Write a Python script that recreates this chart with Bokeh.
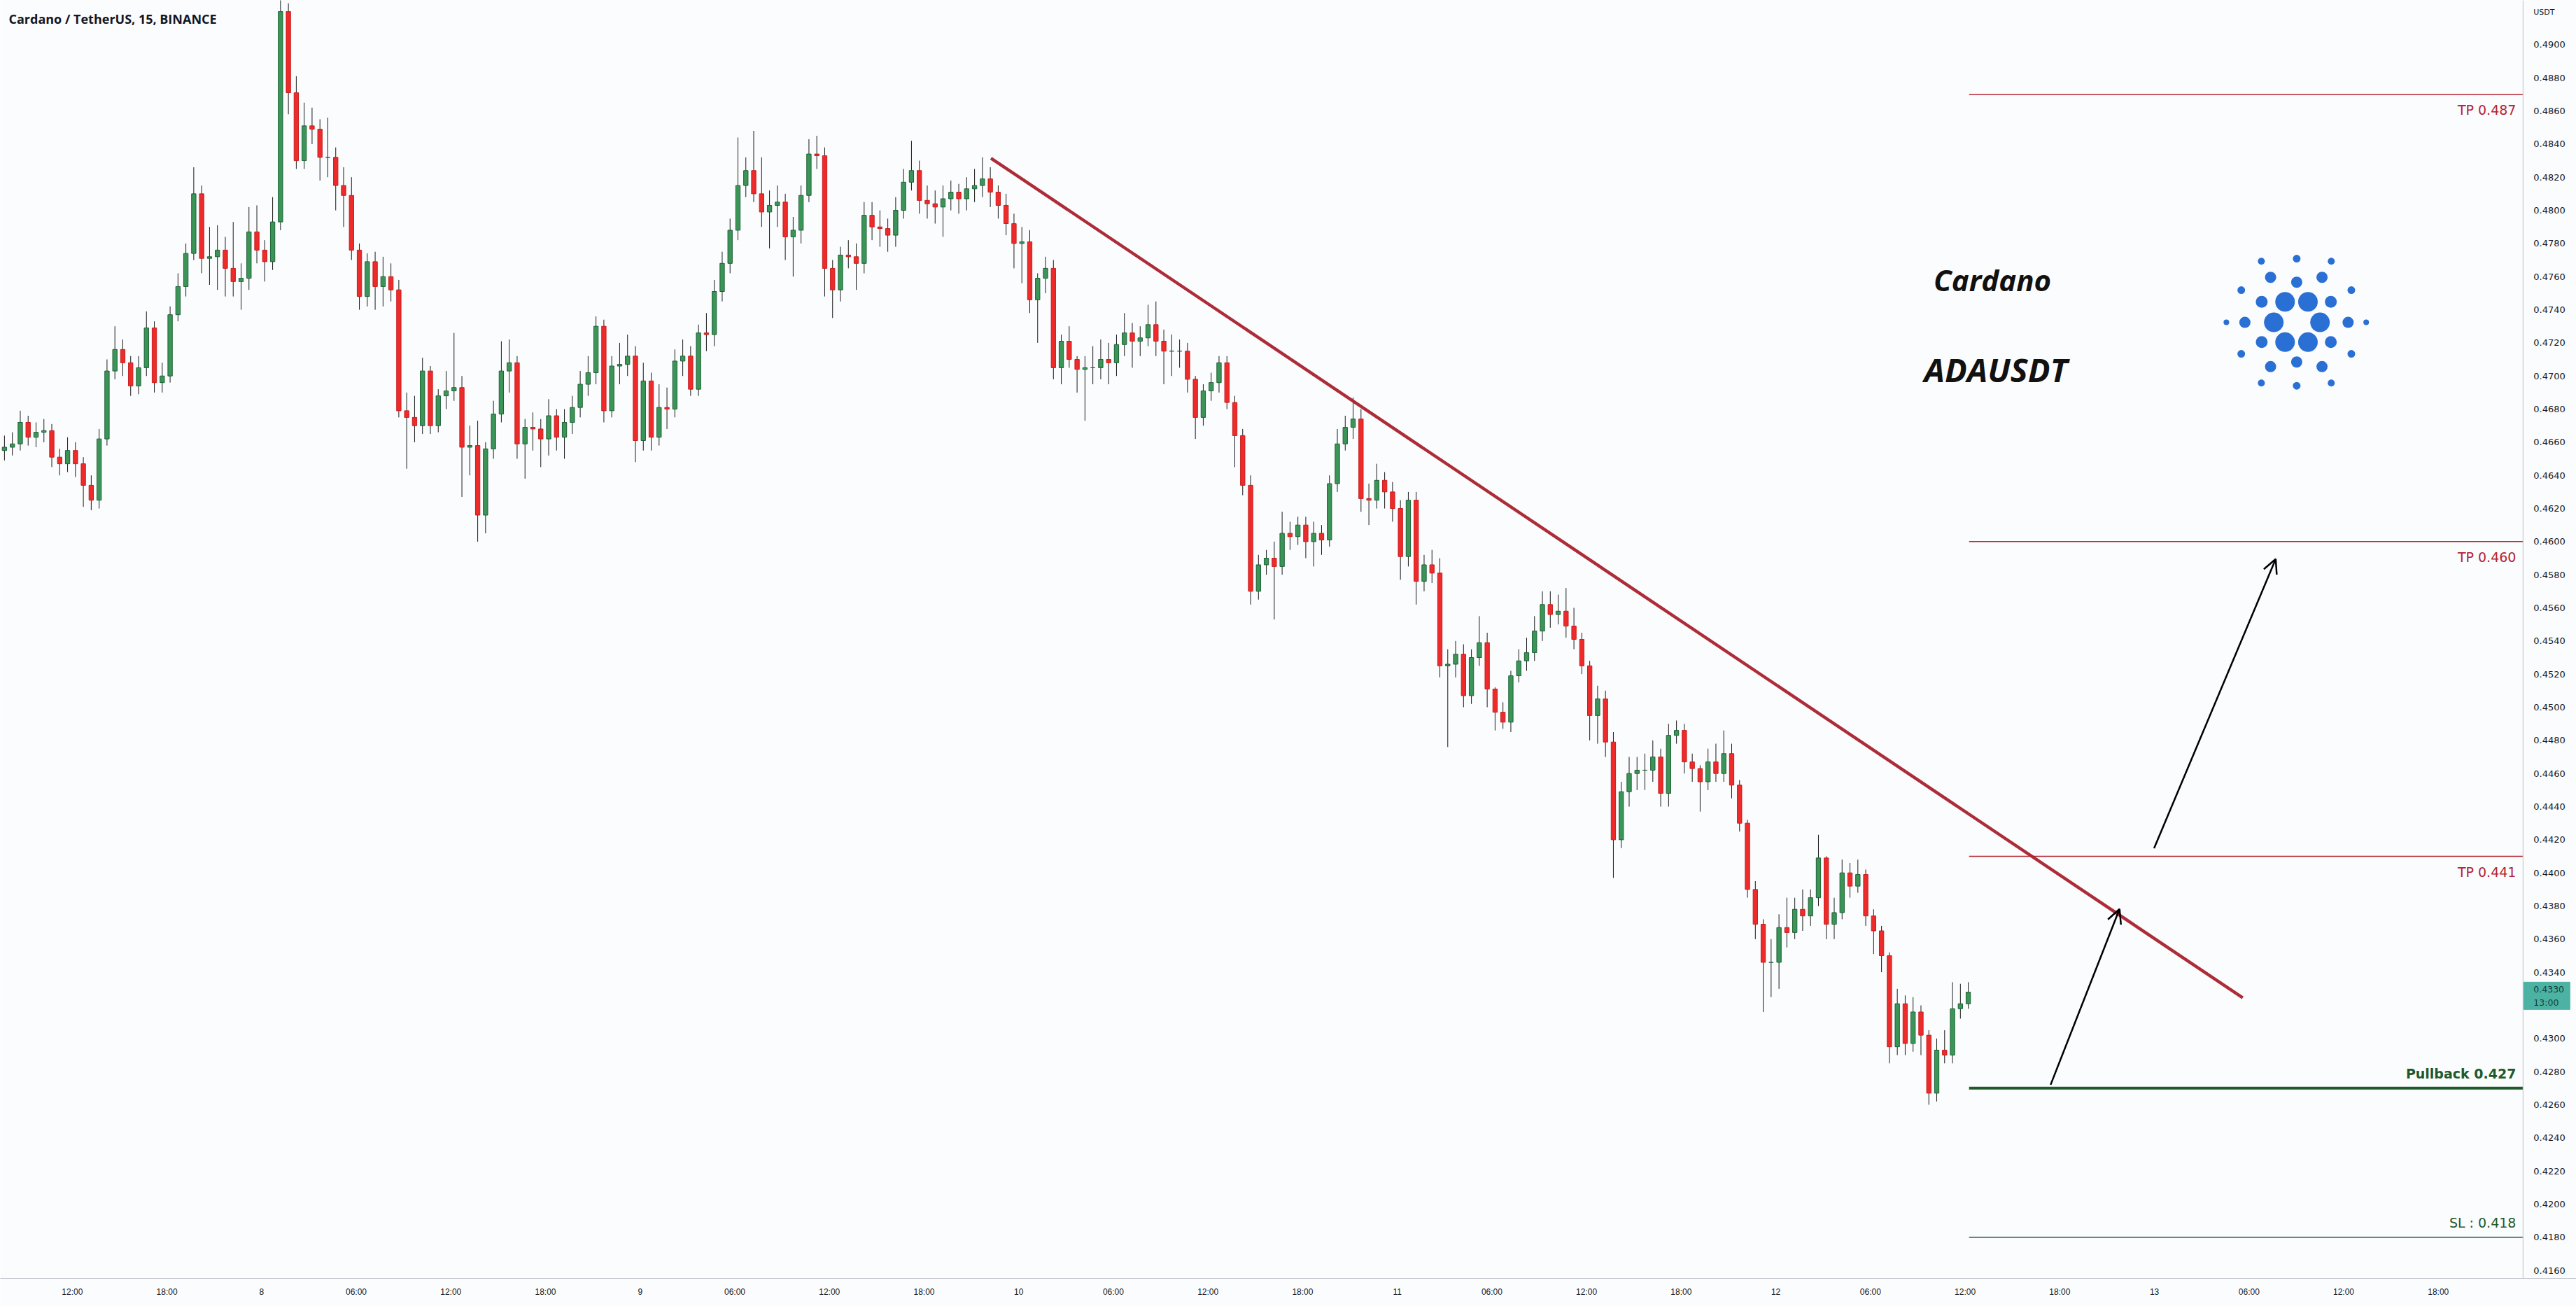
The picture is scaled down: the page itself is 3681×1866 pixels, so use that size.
from bokeh.plotting import figure
from bokeh.models import (ColumnDataSource, Range1d, FixedTicker, Label, Arrow, OpenHead)
from bokeh.core.properties import value
from bokeh.embed import file_html
from bokeh.resources import INLINE

# ---------------- data (time in hours relative to Jul 8 00:00, 30-minute candles) -------------
start_hour = -16.5          # first candle: Jul 7 07:30
bar_hours = 0.5
first_open = 0.4655

close = [
    0.4657, 0.4659, 0.4672, 0.4663, 0.4666, 0.4667, 0.4651, 0.4647, 0.4655, 0.4647,
    0.4634, 0.4625, 0.4662, 0.4703, 0.4716, 0.4708, 0.4694, 0.4705, 0.4729, 0.4696,
    0.4700, 0.4737, 0.4754, 0.4774, 0.4810, 0.4771, 0.4772, 0.4776, 0.4765, 0.4757,
    0.4759, 0.4787, 0.4776, 0.4769, 0.4793, 0.4920, 0.4871, 0.4830, 0.4851, 0.4849,
    0.4832, 0.4832, 0.4815, 0.4809, 0.4776, 0.4748, 0.4769, 0.4754, 0.4760, 0.4752,
    0.4679, 0.4675, 0.4670, 0.4703, 0.4670, 0.4688, 0.4691, 0.4693, 0.4657, 0.4658,
    0.4616, 0.4656, 0.4677, 0.4703, 0.4708, 0.4659, 0.4669, 0.4668, 0.4662, 0.4676,
    0.4663, 0.4672, 0.4681, 0.4695, 0.4702, 0.4730, 0.4679, 0.4706, 0.4707, 0.4712,
    0.4661, 0.4697, 0.4663, 0.4681, 0.4680, 0.4709, 0.4712, 0.4692, 0.4726, 0.4725,
    0.4751, 0.4768, 0.4788, 0.4815, 0.4824, 0.4810, 0.4799, 0.4803, 0.4805, 0.4784,
    0.4788, 0.4809, 0.4834, 0.4833, 0.4765, 0.4752, 0.4773, 0.4772, 0.4768, 0.4797,
    0.4790, 0.4789, 0.4785, 0.4800, 0.4817, 0.4824, 0.4806, 0.4804, 0.4802, 0.4807,
    0.4811, 0.4807, 0.4813, 0.4815, 0.4819, 0.4811, 0.4803, 0.4792, 0.4780, 0.4781,
    0.4746, 0.4759, 0.4765, 0.4705, 0.4721, 0.4710, 0.4704, 0.4705, 0.4705, 0.4710,
    0.4708, 0.4719, 0.4726, 0.4721, 0.4723, 0.4731, 0.4721, 0.4715, 0.4715, 0.4715,
    0.4698, 0.4675, 0.4691, 0.4696, 0.4708, 0.4684, 0.4664, 0.4634, 0.4570, 0.4586,
    0.4590, 0.4585, 0.4605, 0.4603, 0.4610, 0.4600, 0.4605, 0.4601, 0.4635, 0.4659,
    0.4669, 0.4674, 0.4626, 0.4625, 0.4637, 0.4630, 0.4620, 0.4591, 0.4625, 0.4576,
    0.4586, 0.4581, 0.4525, 0.4526, 0.4532, 0.4507, 0.4530, 0.4539, 0.4511, 0.4497,
    0.4491, 0.4519, 0.4528, 0.4533, 0.4546, 0.4562, 0.4556, 0.4558, 0.4549, 0.4541,
    0.4525, 0.4495, 0.4505, 0.4479, 0.4420, 0.4449, 0.4460, 0.4462, 0.4462, 0.4470,
    0.4448, 0.4483, 0.4486, 0.4467, 0.4463, 0.4455, 0.4467, 0.4460, 0.4472, 0.4453,
    0.4430, 0.4390, 0.4369, 0.4346, 0.4346, 0.4367, 0.4364, 0.4378, 0.4374, 0.4385,
    0.4409, 0.4369, 0.4376, 0.4400, 0.4392, 0.4399, 0.4374, 0.4365, 0.4350, 0.4295,
    0.4321, 0.4297, 0.4316, 0.4302, 0.4267, 0.4293, 0.4290, 0.4318, 0.4321, 0.4328,
]

high = [
    0.4664, 0.4666, 0.4679, 0.4676, 0.4672, 0.4674, 0.4671, 0.4656, 0.4663, 0.4660,
    0.4651, 0.4640, 0.4668, 0.4710, 0.4730, 0.4722, 0.4712, 0.4712, 0.4739, 0.4733,
    0.4708, 0.4742, 0.4762, 0.4780, 0.4826, 0.4815, 0.4790, 0.4791, 0.4784, 0.4793,
    0.4768, 0.4802, 0.4803, 0.4782, 0.4808, 0.4927, 0.4925, 0.4881, 0.4865, 0.4862,
    0.4855, 0.4856, 0.4838, 0.4826, 0.4820, 0.4780, 0.4774, 0.4775, 0.4772, 0.4768,
    0.4758, 0.4690, 0.4688, 0.4711, 0.4706, 0.4692, 0.4703, 0.4726, 0.4700, 0.4670,
    0.4673, 0.4660, 0.4685, 0.4721, 0.4722, 0.4712, 0.4674, 0.4678, 0.4674, 0.4686,
    0.4680, 0.4680, 0.4688, 0.4703, 0.4712, 0.4736, 0.4734, 0.4712, 0.4720, 0.4725,
    0.4718, 0.4708, 0.4702, 0.4695, 0.4693, 0.4716, 0.4722, 0.4718, 0.4731, 0.4738,
    0.4758, 0.4775, 0.4795, 0.4844, 0.4832, 0.4848, 0.4832, 0.4812, 0.4815, 0.4810,
    0.4796, 0.4815, 0.4843, 0.4845, 0.4838, 0.4770, 0.4778, 0.4782, 0.4780, 0.4805,
    0.4805, 0.4800, 0.4795, 0.4808, 0.4825, 0.4842, 0.4830, 0.4815, 0.4812, 0.4815,
    0.4818, 0.4816, 0.4820, 0.4825, 0.4832, 0.4826, 0.4815, 0.4810, 0.4798, 0.4790,
    0.4788, 0.4762, 0.4772, 0.4770, 0.4725, 0.4730, 0.4712, 0.4712, 0.4718, 0.4722,
    0.4720, 0.4725, 0.4738, 0.4732, 0.4730, 0.4743, 0.4745, 0.4728, 0.4725, 0.4722,
    0.4720, 0.4700, 0.4695, 0.4702, 0.4712, 0.4712, 0.4688, 0.4668, 0.4640, 0.4592,
    0.4595, 0.4600, 0.4618, 0.4612, 0.4615, 0.4615, 0.4612, 0.4610, 0.4640, 0.4668,
    0.4676, 0.4687, 0.4680, 0.4635, 0.4647, 0.4642, 0.4636, 0.4625, 0.4630, 0.4630,
    0.4592, 0.4595, 0.4590, 0.4535, 0.4540, 0.4538, 0.4535, 0.4555, 0.4545, 0.4512,
    0.4503, 0.4522, 0.4535, 0.4542, 0.4555, 0.4570, 0.4570, 0.4568, 0.4572, 0.4560,
    0.4545, 0.4528, 0.4513, 0.4510, 0.4485, 0.4455, 0.4470, 0.4470, 0.4472, 0.4480,
    0.4475, 0.4490, 0.4492, 0.4490, 0.4472, 0.4465, 0.4475, 0.4478, 0.4486, 0.4478,
    0.4456, 0.4432, 0.4395, 0.4372, 0.4360, 0.4375, 0.4385, 0.4385, 0.4390, 0.4390,
    0.4423, 0.4410, 0.4385, 0.4408, 0.4406, 0.4408, 0.4402, 0.4378, 0.4368, 0.4352,
    0.4330, 0.4326, 0.4325, 0.4320, 0.4305, 0.4300, 0.4305, 0.4334, 0.4333, 0.4334,
]

low = [
    0.4649, 0.4652, 0.4655, 0.4658, 0.4657, 0.4660, 0.4645, 0.4640, 0.4642, 0.4639,
    0.4621, 0.4619, 0.4620, 0.4658, 0.4698, 0.4700, 0.4688, 0.4689, 0.4700, 0.4690,
    0.4690, 0.4696, 0.4733, 0.4748, 0.4770, 0.4762, 0.4755, 0.4752, 0.4748, 0.4748,
    0.4740, 0.4752, 0.4768, 0.4757, 0.4764, 0.4788, 0.4858, 0.4825, 0.4825, 0.4840,
    0.4818, 0.4820, 0.4800, 0.4790, 0.4770, 0.4740, 0.4742, 0.4740, 0.4742, 0.4745,
    0.4675, 0.4644, 0.4660, 0.4665, 0.4665, 0.4666, 0.4680, 0.4685, 0.4627, 0.4640,
    0.4600, 0.4605, 0.4650, 0.4672, 0.4690, 0.4650, 0.4638, 0.4655, 0.4645, 0.4652,
    0.4655, 0.4650, 0.4665, 0.4675, 0.4688, 0.4695, 0.4672, 0.4675, 0.4695, 0.4700,
    0.4648, 0.4655, 0.4655, 0.4658, 0.4668, 0.4675, 0.4700, 0.4688, 0.4688, 0.4715,
    0.4718, 0.4745, 0.4762, 0.4782, 0.4808, 0.4805, 0.4790, 0.4777, 0.4790, 0.4770,
    0.4760, 0.4780, 0.4805, 0.4825, 0.4748, 0.4735, 0.4745, 0.4765, 0.4752, 0.4762,
    0.4782, 0.4778, 0.4775, 0.4778, 0.4795, 0.4812, 0.4798, 0.4795, 0.4792, 0.4784,
    0.4800, 0.4798, 0.4800, 0.4805, 0.4808, 0.4802, 0.4795, 0.4785, 0.4765, 0.4756,
    0.4738, 0.4720, 0.4750, 0.4698, 0.4695, 0.4705, 0.4690, 0.4673, 0.4695, 0.4698,
    0.4695, 0.4700, 0.4712, 0.4705, 0.4712, 0.4718, 0.4712, 0.4695, 0.4700, 0.4705,
    0.4690, 0.4662, 0.4670, 0.4685, 0.4690, 0.4680, 0.4645, 0.4628, 0.4562, 0.4565,
    0.4580, 0.4553, 0.4580, 0.4595, 0.4598, 0.4590, 0.4585, 0.4592, 0.4597, 0.4630,
    0.4655, 0.4662, 0.4618, 0.4610, 0.4620, 0.4620, 0.4612, 0.4577, 0.4585, 0.4562,
    0.4570, 0.4575, 0.4518, 0.4476, 0.4518, 0.4500, 0.4502, 0.4525, 0.4500, 0.4486,
    0.4487, 0.4485, 0.4515, 0.4522, 0.4528, 0.4540, 0.4548, 0.4550, 0.4542, 0.4535,
    0.4520, 0.4480, 0.4478, 0.4470, 0.4397, 0.4415, 0.4440, 0.4450, 0.4450, 0.4455,
    0.4440, 0.4440, 0.4478, 0.4460, 0.4455, 0.4437, 0.4450, 0.4455, 0.4455, 0.4445,
    0.4425, 0.4385, 0.4360, 0.4316, 0.4325, 0.4330, 0.4355, 0.4360, 0.4365, 0.4368,
    0.4380, 0.4360, 0.4360, 0.4372, 0.4385, 0.4388, 0.4368, 0.4351, 0.4340, 0.4285,
    0.4290, 0.4290, 0.4292, 0.4290, 0.4260, 0.4262, 0.4285, 0.4285, 0.4312, 0.4318,
]

# x-axis ticks (hours from Jul 8 00:00) and their labels
x_tick_hours = [-12, -6, 0, 6, 12, 18, 24, 30, 36, 42, 48, 54, 60, 66, 72, 78, 84,
                90, 96, 102, 108, 114, 120, 126, 132, 138]
x_tick_labels = ["12:00", "18:00", "8", "06:00", "12:00", "18:00", "9", "06:00", "12:00",
                 "18:00", "10", "06:00", "12:00", "18:00", "11", "06:00", "12:00", "18:00",
                 "12", "06:00", "12:00", "18:00", "13", "06:00", "12:00", "18:00"]
# price-scale ticks (USDT)
y_ticks = [round(0.416 + 0.002 * k, 4) for k in range(38)]
price_unit = "USDT"

# trade levels
level_names = ["TP 0.487", "TP 0.460", "TP 0.441", "Pullback 0.427", "SL : 0.418"]
level_prices = [0.487, 0.460, 0.441, 0.427, 0.418]
last_price = 0.4330
last_label = "13:00"

# drawings (hours, price)
trend_start = (46.24, 0.48315)
trend_end = (125.6, 0.43246)
arrow1 = (113.42, 0.42721, 117.79, 0.43782)
arrow2 = (119.98, 0.44149, 127.69, 0.45895)

# ---------------- derived ----------------
n = len(close)
opens = [first_open] + close[:-1]
xs = [start_hour + bar_hours * i + 0.2 for i in range(n)]
up = [c >= o for o, c in zip(opens, close)]

def sub(mask):
    return ColumnDataSource(dict(
        x=[x for x, m in zip(xs, mask) if m],
        top=[max(o, c) for o, c, m in zip(opens, close, mask) if m],
        bottom=[min(o, c) for o, c, m in zip(opens, close, mask) if m],
        high=[h for h, m in zip(high, mask) if m],
        low=[l for l, m in zip(low, mask) if m],
    ))

src_up = sub(up)
src_dn = sub([not u for u in up])

PXH = 22.54      # px per hour
PXP = 23665.0    # px per price unit
X0, X1 = -16.562, 146.75
XA = 143.37      # price-scale border (hours)
Y0, Y1 = 0.41552, 0.492679
BG = "#fbfcfe"
AXIS_C = "#bcc0c7"

p = figure(width=3681, height=1866, output_backend="svg", toolbar_location=None,
           x_range=Range1d(X0, X1), y_range=Range1d(Y0, Y1), y_axis_location=None,
           min_border_left=0, min_border_top=0, min_border_right=0, min_border_bottom=40,
           background_fill_color=BG, border_fill_color=BG)
p.outline_line_color = None
p.xgrid.visible = False
p.ygrid.visible = False

GREEN_F, GREEN_L = "#3c9558", "#1d6034"
RED_F, RED_L = "#ee2b2b", "#c81c1c"
WICK = "#1a1a1a"

for src, f, l in ((src_up, GREEN_F, GREEN_L), (src_dn, RED_F, RED_L)):
    p.segment(x0="x", y0="high", x1="x", y1="low", source=src, line_color=WICK, line_width=1)
    p.vbar(x="x", width=0.28, top="top", bottom="bottom", source=src,
           fill_color=f, line_color=l, line_width=1)

# trade levels
lvl_x0 = start_hour + bar_hours * (n - 1) + 0.25
level_colors = ["#b5232f", "#b5232f", "#b5232f", "#1f5a2a", "#1f5a2a"]
level_widths = [1.5, 1.5, 1.5, 4, 1.5]
for name, lv, col, lw in zip(level_names, level_prices, level_colors, level_widths):
    p.segment(x0=[lvl_x0], y0=[lv], x1=[XA], y1=[lv], line_color=col, line_width=lw)
    above = name.startswith("Pullback") or name.startswith("SL")
    p.add_layout(Label(x=142.93, y=lv, text=name, text_align="right",
                       text_baseline="bottom" if above else "top",
                       y_offset=10 if above else -11,
                       text_color=col, text_font_size="19px",
                       text_font="DejaVu Sans",
                       text_font_style="bold" if name.startswith("Pullback") else "normal"))

# trendline
p.segment(x0=[trend_start[0]], y0=[trend_start[1]], x1=[trend_end[0]], y1=[trend_end[1]],
          line_color="#a8212d", line_width=4.5, line_alpha=0.95)

# arrows
for a in (arrow1, arrow2):
    p.add_layout(Arrow(end=OpenHead(size=20, line_width=2.5, line_color="black"),
                       x_start=a[0], y_start=a[1], x_end=a[2], y_end=a[3],
                       line_color="black", line_width=2.5))

# texts
p.add_layout(Label(x=X0, y=Y1, x_offset=12, y_offset=-26, text="Cardano / TetherUS, 15, BINANCE",
                   text_font="Open Sans", text_font_style="bold", text_font_size="18px",
                   text_color="#131722", text_baseline="middle"))
p.add_layout(Label(x=106.0, y=0.47582, text="Cardano", text_font="Open Sans",
                   text_font_style="bold italic", text_font_size="42px", text_color="#111111",
                   text_baseline="middle"))
p.add_layout(Label(x=105.4, y=0.47037, text="ADAUSDT", text_font="Open Sans",
                   text_font_style="bold italic", text_font_size="47px", text_color="#111111",
                   text_baseline="middle"))

# Cardano logo (pixel offsets from logo centre, dot sizes in px)
logo_cx, logo_cy = 129.02, 0.47324
logo_dx = [-50.5, 0, 49.4, -79.2, 78.1, -100.5, 99.3, -79.2, 78.1, -50.5, 0, 49.4,
           -37.3, 0, 36.2, -50, 48.8, -74, 73.5, -50, 48.8, -37.3, 0, 36.2,
           -16.6, 16.1, -32.7, 33.3, -16.6, 16.1]
logo_dy = [-87.3, -91, -87.3, -46, -46, 0, 0, 45, 45, 86.7, 90.7, 86.7,
           -64.3, -57.3, -64.3, -29.3, -29.3, 0, 0, 28.3, 28.3, 63.3, 56.7, 63.3,
           -29.3, -29.3, 0, 0, 28.3, 28.3]
logo_size = [10, 11, 10, 11, 11, 8, 8, 11, 11, 10, 11, 10,
             16, 16, 16, 17, 17, 16, 16, 17, 17, 16, 16, 16,
             28, 28, 28, 28, 28, 28]
p.scatter(x=[logo_cx + d / PXH for d in logo_dx],
          y=[logo_cy - d / PXP for d in logo_dy],
          size=logo_size, marker="circle", fill_color="#2a6fd4", line_color=None)

# time axis
xa = p.xaxis[0]
xa.ticker = FixedTicker(ticks=x_tick_hours)
xa.major_label_overrides = {h: l for h, l in zip(x_tick_hours, x_tick_labels)}
xa.axis_line_color = AXIS_C
xa.major_tick_line_color = None
xa.minor_tick_line_color = None
xa.major_tick_out = 0
xa.major_tick_in = 0
xa.major_label_text_font = "Liberation Sans"
xa.major_label_text_font_size = "12px"
xa.major_label_text_color = "#131722"
xa.major_label_standoff = 12

# price scale (drawn at the right edge of the chart pane)
p.segment(x0=[XA], y0=[Y0], x1=[XA], y1=[Y1], line_color=AXIS_C, line_width=1)
lab_x = XA + 15 / PXH
p.text(x=[lab_x] * len(y_ticks), y=y_ticks, text=[f"{t:.4f}" for t in y_ticks],
       text_font=value("DejaVu Sans"), text_font_size="13px", text_color="#131722",
       text_baseline="middle", text_align="left")
p.text(x=[lab_x], y=[Y1 - 17 / PXP], text=[price_unit],
       text_font=value("DejaVu Sans"), text_font_size="11px", text_color="#131722",
       text_baseline="middle", text_align="left")

# last price tag
tag_y = last_price - 10 / PXP
p.rect(x=[XA + 34 / PXH], y=[tag_y], width=66 / PXH, height=39 / PXP,
       fill_color="#4bb2a4", line_color="#4bb2a4")
p.text(x=[lab_x, lab_x], y=[tag_y + 9.5 / PXP, tag_y - 9.5 / PXP],
       text=[f"{last_price:.4f}", last_label],
       text_font=value("DejaVu Sans"), text_font_size="12.5px", text_color="#173f3a",
       text_baseline="middle", text_align="left")

open("out.html", "w").write(file_html(p, INLINE))
